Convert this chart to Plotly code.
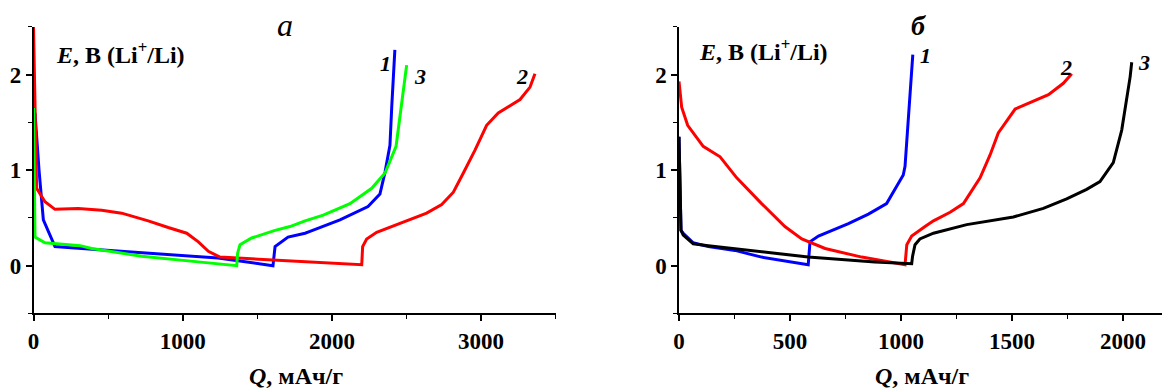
import plotly.graph_objects as go

# ---------------- Panel a ----------------
a1_q = [10, 37, 66, 144, 323, 1015, 1237, 1605, 1619, 1706, 1820, 1853, 2054, 2242, 2322, 2356, 2389, 2401, 2422]
a1_e = [1.60, 1.00, 0.48, 0.20, 0.18, 0.11, 0.08, 0.00, 0.20, 0.30, 0.34, 0.36, 0.48, 0.62, 0.75, 0.98, 1.26, 1.66, 2.26]

a2_q = [0, 21, 77, 144, 300, 457, 591, 769, 903, 1027, 1105, 1172, 1250, 1507, 1808, 2200,
        2206, 2233, 2300, 2479, 2635, 2736, 2814, 2881, 2959, 3037, 3115, 3261, 3328, 3361]
a2_e = [2.50, 0.81, 0.67, 0.59, 0.60, 0.58, 0.55, 0.47, 0.40, 0.34, 0.25, 0.15, 0.09, 0.07, 0.04, 0.01,
        0.20, 0.28, 0.35, 0.46, 0.55, 0.64, 0.77, 0.97, 1.21, 1.47, 1.60, 1.74, 1.87, 2.01]

a3_q = [0, 10, 77, 233, 312, 390, 725, 1105, 1362, 1368, 1384, 1462, 1619, 1719, 1820, 1942, 2121, 2267, 2356, 2430, 2456, 2501]
a3_e = [1.65, 0.30, 0.24, 0.22, 0.21, 0.18, 0.10, 0.04, 0.00, 0.13, 0.22, 0.29, 0.37, 0.41, 0.47, 0.53, 0.65, 0.81, 0.97, 1.25, 1.56, 2.10]

# ---------------- Panel б ----------------
b1_q = [0, 9, 19, 64, 132, 252, 372, 582, 590, 628, 763, 853, 935, 1010, 1018, 1053]
b1_e = [1.35, 0.37, 0.34, 0.24, 0.20, 0.16, 0.09, 0.01, 0.25, 0.31, 0.44, 0.54, 0.65, 0.95, 1.04, 2.21]

b2_q = [0, 12, 39, 109, 185, 260, 372, 477, 553, 658, 823, 1018,
        1026, 1048, 1108, 1146, 1221, 1281, 1356, 1401, 1438, 1514, 1664, 1731, 1769]
b2_e = [1.93, 1.66, 1.47, 1.25, 1.14, 0.92, 0.65, 0.41, 0.28, 0.18, 0.09, 0.01,
        0.22, 0.31, 0.41, 0.47, 0.56, 0.65, 0.92, 1.16, 1.39, 1.64, 1.79, 1.91, 2.01]

b3_q = [0, 9, 19, 64, 132, 282, 582, 882, 1048, 1052, 1063, 1085, 1146, 1296, 1506, 1641, 1746, 1836, 1896, 1956, 1994, 2032, 2039]
b3_e = [1.35, 0.37, 0.32, 0.23, 0.21, 0.17, 0.09, 0.04, 0.02, 0.10, 0.22, 0.28, 0.34, 0.43, 0.51, 0.60, 0.70, 0.80, 0.88, 1.08, 1.42, 1.98, 2.13]

curve_labels_a = [("1", 2356, 2.12), ("3", 2592, 1.98), ("2", 3274, 1.98)]
curve_labels_b = [("1", 1108, 2.20), ("2", 1743, 2.08), ("3", 2095, 2.13)]

FONT = "Liberation Serif"
W = 3

fig = go.Figure()
fig.add_trace(go.Scatter(x=a1_q, y=a1_e, mode="lines", line=dict(color="#0000FF", width=W), xaxis="x", yaxis="y"))
fig.add_trace(go.Scatter(x=a2_q, y=a2_e, mode="lines", line=dict(color="#FF0000", width=W), xaxis="x", yaxis="y"))
fig.add_trace(go.Scatter(x=a3_q, y=a3_e, mode="lines", line=dict(color="#00FF00", width=W), xaxis="x", yaxis="y"))

fig.add_trace(go.Scatter(x=b1_q, y=b1_e, mode="lines", line=dict(color="#0000FF", width=W), xaxis="x2", yaxis="y2"))
fig.add_trace(go.Scatter(x=b2_q, y=b2_e, mode="lines", line=dict(color="#FF0000", width=W), xaxis="x2", yaxis="y2"))
fig.add_trace(go.Scatter(x=b3_q, y=b3_e, mode="lines", line=dict(color="#000000", width=W), xaxis="x2", yaxis="y2"))

ydom = [0.1963, 0.9309]
tickfont = dict(family=FONT, size=23, color="black", weight="bold")

def xax(dom, rng, dtick, mdtick):
    return dict(domain=dom, range=rng, dtick=dtick, tick0=0, showline=True, linecolor="black", linewidth=1.5,
                ticks="outside", ticklen=6, tickwidth=1.5, tickcolor="black", showgrid=False, zeroline=False,
                tickfont=tickfont, fixedrange=True, automargin=False,
                minor=dict(dtick=mdtick, tick0=0, ticks="outside", ticklen=4, tickwidth=1.2, tickcolor="black", showgrid=False))

def yax(anchor):
    return dict(domain=ydom, range=[-0.5, 2.5], dtick=1, tick0=0, anchor=anchor, showline=True, linecolor="black",
                linewidth=1.5, ticks="outside", ticklen=6, tickwidth=1.5, tickcolor="black", showgrid=False,
                zeroline=False, tickfont=tickfont, fixedrange=True, automargin=False,
                minor=dict(dtick=0.5, tick0=0, ticks="outside", ticklen=4, tickwidth=1.2, tickcolor="black", showgrid=False))

fig.update_layout(
    width=1162, height=390,
    margin=dict(l=0, r=0, t=0, b=0, autoexpand=False),
    paper_bgcolor="white", plot_bgcolor="white",
    showlegend=False,
    xaxis=dict(**xax([0.02883, 0.47823], [0, 3500], 1000, 500), anchor="y"),
    yaxis=yax("x"),
    xaxis2=dict(**xax([0.58434, 0.99974], [0, 2174], 500, 250), anchor="y2"),
    yaxis2=yax("x2"),
)

ann = []
for xc in [296 / 1162, 922 / 1162]:
    ann.append(dict(x=xc, y=1 - 376 / 390, xref="paper", yref="paper", showarrow=False,
                    text="<b><i>Q</i>, мАч/г</b>", font=dict(family=FONT, size=24, color="black"),
                    xanchor="center", yanchor="middle"))
for xl, yc in [(54 / 1162, 1 - 53 / 390), (697 / 1162, 1 - 50 / 390)]:
    ann.append(dict(x=xl, y=yc, xref="paper", yref="paper", showarrow=False,
                    text="<b><i>E</i>, В (Li<sup>+</sup>/Li)</b>", font=dict(family=FONT, size=24, color="black"),
                    xanchor="left", yanchor="middle"))
ann.append(dict(x=285 / 1162, y=1 - 25 / 390, xref="paper", yref="paper", showarrow=False,
                text="<i>a</i>", font=dict(family=FONT, size=32, color="black"), xanchor="center", yanchor="middle"))
ann.append(dict(x=918 / 1162, y=1 - 26 / 390, xref="paper", yref="paper", showarrow=False,
                text="<b><i>б</i></b>", font=dict(family=FONT, size=28, color="black"), xanchor="center", yanchor="middle"))
for t, qx, ey in curve_labels_a:
    ann.append(dict(x=qx, y=ey, xref="x", yref="y", showarrow=False, text="<b><i>%s</i></b>" % t,
                    font=dict(family=FONT, size=22, color="black"), xanchor="center", yanchor="middle"))
for t, qx, ey in curve_labels_b:
    ann.append(dict(x=qx, y=ey, xref="x2", yref="y2", showarrow=False, text="<b><i>%s</i></b>" % t,
                    font=dict(family=FONT, size=22, color="black"), xanchor="center", yanchor="middle"))
fig.update_layout(annotations=ann)

fig.write_html("out.html")
